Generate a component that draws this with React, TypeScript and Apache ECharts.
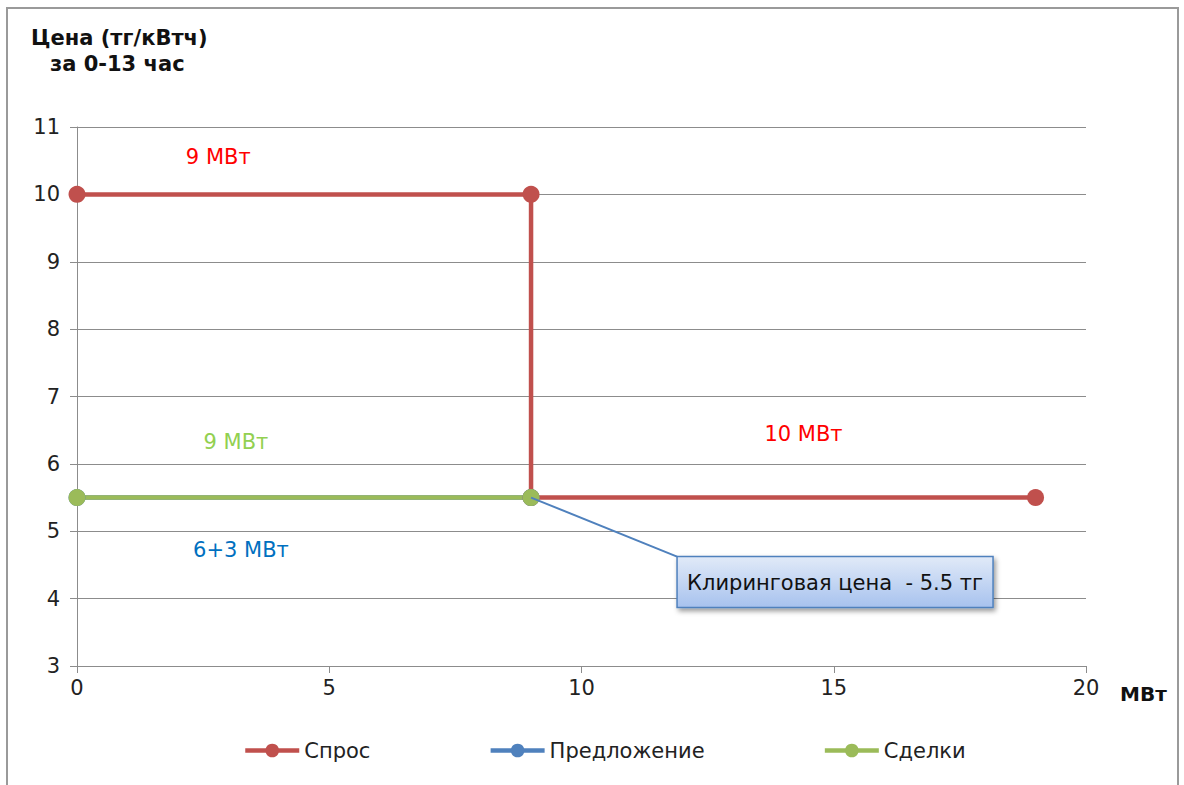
import React, { useEffect, useRef } from "react";
import * as echarts from "echarts";

const seriesNames = ["Спрос", "Предложение", "Сделки"];
const demandPoints: [number, number][] = [[0, 10], [9, 10], [9, 5.5], [19, 5.5]];
const supplyPoints: [number, number][] = [[0, 5.5], [9, 5.5]];
const dealPoints: [number, number][] = [[0, 5.5], [9, 5.5]];
const clearingPoint: [number, number] = [9, 5.5];
const clearingText = "Клиринговая цена  - 5.5 тг";
const yTitleLine1 = "Цена (тг/кВтч)";
const yTitleLine2 = "за 0-13 час";
const xUnit = "МВт";
const notes = [
  { text: "9 МВт", at: [2.8, 10.55], color: "#FF0000" },
  { text: "10 МВт", at: [14.4, 6.45], color: "#FF0000" },
  { text: "9 МВт", at: [3.15, 6.33], color: "#92D050" },
  { text: "6+3 МВт", at: [3.25, 4.72], color: "#0070C0" },
];

const colors = ["#C0504D", "#4F81BD", "#9BBB59"];
const FONT = "'DejaVu Sans'";

export default function App() {
  const ref = useRef<HTMLDivElement>(null);
  useEffect(() => {
    if (!ref.current) return;
    const chart = echarts.init(ref.current, undefined, { renderer: "svg" });
    const mkSeries = (name: string, data: [number, number][], color: string) => ({
      name,
      type: "line",
      data,
      symbol: "circle",
      symbolSize: 17,
      lineStyle: { color, width: 4.5 },
      itemStyle: { color },
    });
    chart.setOption({
      animation: false,
      color: colors,
      textStyle: { fontFamily: FONT },
      grid: { left: 77, right: 98, top: 127, bottom: 119, containLabel: false },
      legend: {
        data: seriesNames,
        left: 238,
        top: 735,
        itemWidth: 54,
        itemHeight: 17,
        itemGap: 118,
        lineStyle: { width: 4.5 },
        textStyle: { fontSize: 21, color: "#222", fontFamily: FONT },
      },
      xAxis: {
        type: "value",
        min: 0,
        max: 20,
        interval: 5,
        axisLine: { show: true, lineStyle: { color: "#8c8c8c", width: 1 } },
        axisTick: { show: true, length: 7, lineStyle: { color: "#8c8c8c" } },
        splitLine: { show: false },
        axisLabel: { fontSize: 21, color: "#222", margin: 11, fontFamily: FONT },
      },
      yAxis: {
        type: "value",
        min: 3,
        max: 11,
        interval: 1,
        axisLine: { show: true, lineStyle: { color: "#8c8c8c", width: 1 } },
        axisTick: { show: true, length: 7, lineStyle: { color: "#8c8c8c" } },
        splitLine: { show: true, lineStyle: { color: "#8c8c8c", width: 1 } },
        axisLabel: { fontSize: 21, color: "#222", margin: 17, fontFamily: FONT },
      },
      series: [
        mkSeries(seriesNames[0], demandPoints, colors[0]),
        mkSeries(seriesNames[1], supplyPoints, colors[1]),
        mkSeries(seriesNames[2], dealPoints, colors[2]),
      ],
    });

    const p = chart.convertToPixel({ gridIndex: 0 }, clearingPoint) as number[];
    const boxX = p[0] + 146;
    const boxY = p[1] + 59;
    const boxW = 316;
    const boxH = 51;
    const noteEls = notes.map((n) => {
      const q = chart.convertToPixel({ gridIndex: 0 }, n.at) as number[];
      return {
        type: "text",
        x: q[0],
        y: q[1],
        style: {
          text: n.text,
          fill: n.color,
          font: `21px ${FONT}`,
          align: "center",
          verticalAlign: "middle",
        },
      };
    });
    chart.setOption({
      graphic: [
        {
          type: "rect",
          shape: { x: 7, y: 8, width: 1171, height: 800 },
          style: { fill: "none", stroke: "#9a9a9a", lineWidth: 2 },
          silent: true,
        },
        {
          type: "text",
          x: 31,
          y: 38,
          style: {
            text: yTitleLine1,
            fill: "#111",
            font: `bold 21px ${FONT}`,
            verticalAlign: "middle",
          },
        },
        {
          type: "text",
          x: 50,
          y: 64,
          style: {
            text: yTitleLine2,
            fill: "#111",
            font: `bold 21px ${FONT}`,
            verticalAlign: "middle",
          },
        },
        {
          type: "text",
          x: 1120,
          y: 694,
          style: {
            text: xUnit,
            fill: "#111",
            font: `bold 20px ${FONT}`,
            verticalAlign: "middle",
          },
        },
        ...noteEls,
        {
          type: "line",
          shape: { x1: p[0], y1: p[1], x2: boxX, y2: boxY },
          style: { stroke: "#4F81BD", lineWidth: 2 },
          z: 100,
        },
        {
          type: "rect",
          shape: { x: boxX, y: boxY, width: boxW, height: boxH },
          style: {
            fill: new echarts.graphic.LinearGradient(0, 0, 0, 1, [
              { offset: 0, color: "#E1EAF8" },
              { offset: 1, color: "#A7C2EE" },
            ]),
            stroke: "#4F81BD",
            lineWidth: 1.5,
            shadowBlur: 5,
            shadowOffsetX: 2,
            shadowOffsetY: 3,
            shadowColor: "rgba(0,0,0,0.4)",
          },
          z: 100,
        },
        {
          type: "text",
          x: boxX + boxW / 2,
          y: boxY + boxH / 2 + 1,
          style: {
            text: clearingText,
            fill: "#111",
            font: `21px ${FONT}`,
            align: "center",
            verticalAlign: "middle",
          },
          z: 101,
        },
      ],
    });
    return () => chart.dispose();
  }, []);
  return (
    <div
      ref={ref}
      style={{ position: "fixed", left: 0, top: 0, width: 1184, height: 785, background: "#fff" }}
    />
  );
}
